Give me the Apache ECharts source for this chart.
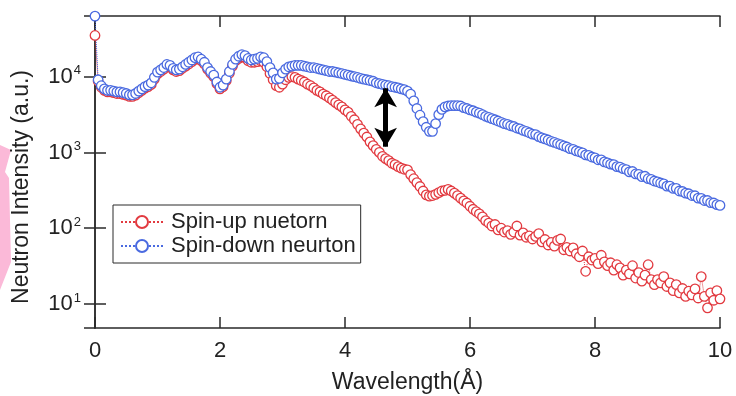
<!DOCTYPE html>
<html><head><meta charset="utf-8">
<script src="https://cdn.jsdelivr.net/npm/echarts@6/dist/echarts.min.js"></script>
<style>html,body{margin:0;padding:0;background:#fff}#c{width:736px;height:396px}</style>
</head><body><div id="c"></div>
<script>
const wavelength = [
0,0.05,0.1,0.15,0.2,0.25,0.3,0.35,0.4,0.45,0.5,0.55,0.6,0.65,0.7,0.75,0.8,0.85,0.9,0.95,
1,1.05,1.1,1.15,1.2,1.25,1.3,1.35,1.4,1.45,1.5,1.55,1.6,1.65,1.7,1.75,1.8,1.85,1.9,1.95,
2,2.05,2.1,2.15,2.2,2.25,2.3,2.35,2.4,2.45,2.5,2.55,2.6,2.65,2.7,2.75,2.8,2.85,2.9,2.95,
3,3.05,3.1,3.15,3.2,3.25,3.3,3.35,3.4,3.45,3.5,3.55,3.6,3.65,3.7,3.75,3.8,3.85,3.9,3.95,
4,4.05,4.1,4.15,4.2,4.25,4.3,4.35,4.4,4.45,4.5,4.55,4.6,4.65,4.7,4.75,4.8,4.85,4.9,4.95,
5,5.05,5.1,5.15,5.2,5.25,5.3,5.35,5.4,5.45,5.5,5.55,5.6,5.65,5.7,5.75,5.8,5.85,5.9,5.95,
6,6.05,6.1,6.15,6.2,6.25,6.3,6.35,6.4,6.45,6.5,6.55,6.6,6.65,6.7,6.75,6.8,6.85,6.9,6.95,
7,7.05,7.1,7.15,7.2,7.25,7.3,7.35,7.4,7.45,7.5,7.55,7.6,7.65,7.7,7.75,7.8,7.85,7.9,7.95,
8,8.05,8.1,8.15,8.2,8.25,8.3,8.35,8.4,8.45,8.5,8.55,8.6,8.65,8.7,8.75,8.8,8.85,8.9,8.95,
9,9.05,9.1,9.15,9.2,9.25,9.3,9.35,9.4,9.45,9.5,9.55,9.6,9.65,9.7,9.75,9.8,9.85,9.9,9.95,
10];

const spinUp = [
35000,8700,7250,6600,6300,6300,6150,6000,6000,5850,5700,5500,5500,5700,6150,6600,7050,7400,7900,9300,
10900,11700,12600,13800,13400,12300,11700,12000,12900,13800,14700,15800,16900,17300,16200,14700,12600,11100,10000,8100,
6900,7400,8850,11100,13800,16200,17400,18200,17800,16200,15500,15500,15800,16200,15500,13500,11000,9100,7600,7250,
7950,9100,9800,10000,9800,9300,8900,8500,7950,7600,7100,6600,6300,5900,5600,5250,4900,4550,4250,4000,
3650,3400,3000,2700,2350,2050,1800,1600,1380,1230,1100,1000,890,830,780,720,690,650,620,600,
590,510,450,400,355,310,275,265,270,280,295,310,315,325,310,290,270,250,230,215,
195,178,166,155,141,126,117,107,112,95,100,89,93,83,89,107,81,87,76,79,
72,78,85,66,71,60,65,58,69,72,52,56,50,55,46,42,50,27,42,38,
40,34,44,36,32,35,28,33,30,24,28,25,32,22,26,20,24,33,21,18,
21,19,23,17,19,15,18,14,16,12.6,14.8,13.2,15.8,12,23,12.6,8.9,14,11.2,15,
11.7];

const spinDown = [
63000,9100,7600,6900,6600,6600,6450,6300,6300,6150,6000,5750,5750,6000,6450,6900,7400,7750,8300,9800,
11500,12300,13200,14500,14100,12900,12300,12600,13500,14500,15500,16600,17800,18200,17000,15500,13200,11700,10500,8500,
7250,7750,9300,11700,14500,17000,18600,19500,19000,17400,16600,17000,17400,18200,17800,15800,13200,11200,9300,9500,
11200,12600,13500,13800,14100,14100,14100,13800,13500,13200,13200,12900,12600,12300,12000,11700,11700,11500,11200,11000,
10700,10500,10200,10000,9800,9500,9300,9100,8900,8700,8300,8100,7900,7750,7600,7400,7250,7100,6900,6750,
6450,5900,4800,3800,3100,2550,2150,1900,1900,2400,3150,3700,4000,4100,4150,4150,4150,4100,3900,3800,
3650,3550,3400,3300,3150,3000,2900,2800,2700,2600,2500,2400,2350,2250,2200,2100,2050,1950,1900,1820,
1740,1720,1620,1560,1510,1460,1400,1360,1310,1270,1220,1180,1120,1100,1050,1020,985,930,915,870,
850,800,800,750,730,700,690,650,640,610,595,555,560,520,515,480,485,450,440,420,
410,395,385,360,360,335,335,310,305,290,285,270,268,250,248,232,232,218,215,205,
200];

const seriesNames = ['Spin-up nuetorn', 'Spin-down neurton'];
const xTicks = [0, 2, 4, 6, 8, 10];
const yTickExponents = [1, 2, 3, 4];
const arrowX = 4.65, arrowTop = 7030, arrowBottom = 1190;

const FONT = '"Liberation Sans", Arial, Helvetica, sans-serif';
const RED = '#e23a40', BLUE = '#4a6ae0', AX = '#2a2a2a';
const YMIN = 4.82, YMAX = 63200;

const chart = echarts.init(document.getElementById('c'), null, {renderer: 'canvas'});
const yLabel = v => {
  const e = Math.round(Math.log10(v));
  return yTickExponents.includes(e) && Math.abs(Math.log10(v) - e) < 1e-6 ? '{b|10}{s|' + e + '}' : '';
};
chart.setOption({
  animation: false,
  backgroundColor: '#fff',
  grid: {left: 95, right: 16, top: 16, bottom: 68, containLabel: false, outerBoundsMode: 'none'},
  graphic: [{
    type: 'polygon', z: -1,
    shape: {points: [[0,145],[11,150],[5,172],[9,178],[11,262],[0,290]]},
    style: {fill: '#fbb9d8'}
  }],
  legend: {
    left: 113, top: 205, orient: 'vertical',
    backgroundColor: '#fff', borderColor: AX, borderWidth: 1,
    padding: [6, 5, 6, 7], itemGap: 2, itemWidth: 42, itemHeight: 15,
    textStyle: {fontFamily: FONT, fontSize: 22, color: '#222', lineHeight: 22, padding: [0,0,0,3]},
    data: seriesNames
  },
  xAxis: [{
    type: 'value', min: xTicks[0], max: xTicks[xTicks.length-1], interval: 2,
    name: 'Wavelength(Å)', nameLocation: 'middle', nameGap: 43,
    nameTextStyle: {fontFamily: FONT, fontSize: 23, color: '#222'},
    axisLine: {lineStyle: {color: AX, width: 1.5}},
    axisTick: {inside: true, length: 11, lineStyle: {color: AX, width: 1.5}},
    axisLabel: {fontFamily: FONT, fontSize: 22, color: '#222', margin: 12},
    splitLine: {show: false}
  }, {
    type: 'value', position: 'top', min: xTicks[0], max: xTicks[xTicks.length-1], interval: 2,
    axisLine: {show: true, lineStyle: {color: AX, width: 1.5}},
    axisTick: {inside: true, length: 11, lineStyle: {color: AX, width: 1.5}},
    axisLabel: {show: false}, splitLine: {show: false}
  }],
  yAxis: [{
    type: 'log', logBase: 10, min: YMIN, max: YMAX,
    name: 'Neutron Intensity (a.u.)', nameLocation: 'middle', nameGap: 62,
    nameTextStyle: {fontFamily: FONT, fontSize: 23, color: '#222', padding: [0, 30, 0, 0]},
    axisLine: {show: true, lineStyle: {color: AX, width: 1.5}},
    axisTick: {inside: true, length: 11, lineStyle: {color: AX, width: 1.5}},
    axisLabel: {
      margin: 14, showMinLabel: false, showMaxLabel: false, formatter: yLabel,
      rich: {
        b: {fontFamily: FONT, fontSize: 22, color: '#222'},
        s: {fontFamily: FONT, fontSize: 13, color: '#222', padding: [0, 0, 12, 1]}
      }
    },
    splitLine: {show: false}
  }, {
    type: 'log', logBase: 10, min: YMIN, max: YMAX, position: 'right',
    axisLine: {show: true, lineStyle: {color: AX, width: 1.5}},
    axisTick: {inside: true, length: 11, lineStyle: {color: AX, width: 1.5}},
    axisLabel: {show: false}, splitLine: {show: false}
  }],
  series: [{
    name: seriesNames[0], type: 'line',
    data: wavelength.map((x, i) => [x, spinUp[i]]),
    symbol: 'circle', symbolSize: 9.5, showAllSymbol: true,
    itemStyle: {color: '#fff', borderColor: RED, borderWidth: 1.3},
    lineStyle: {color: RED, width: 1, type: 'dotted'}
  }, {
    name: seriesNames[1], type: 'line',
    data: wavelength.map((x, i) => [x, spinDown[i]]),
    symbol: 'circle', symbolSize: 9.5, showAllSymbol: true,
    itemStyle: {color: '#fff', borderColor: BLUE, borderWidth: 1.3},
    lineStyle: {color: BLUE, width: 1, type: 'dotted'},
    markLine: {
      silent: true, symbol: ['arrow', 'arrow'], symbolSize: [17, 19],
      label: {show: false},
      lineStyle: {color: '#000', width: 5, type: 'solid'},
      data: [[{coord: [arrowX, arrowTop]}, {coord: [arrowX, arrowBottom]}]]
    }
  }]
});
</script></body></html>
